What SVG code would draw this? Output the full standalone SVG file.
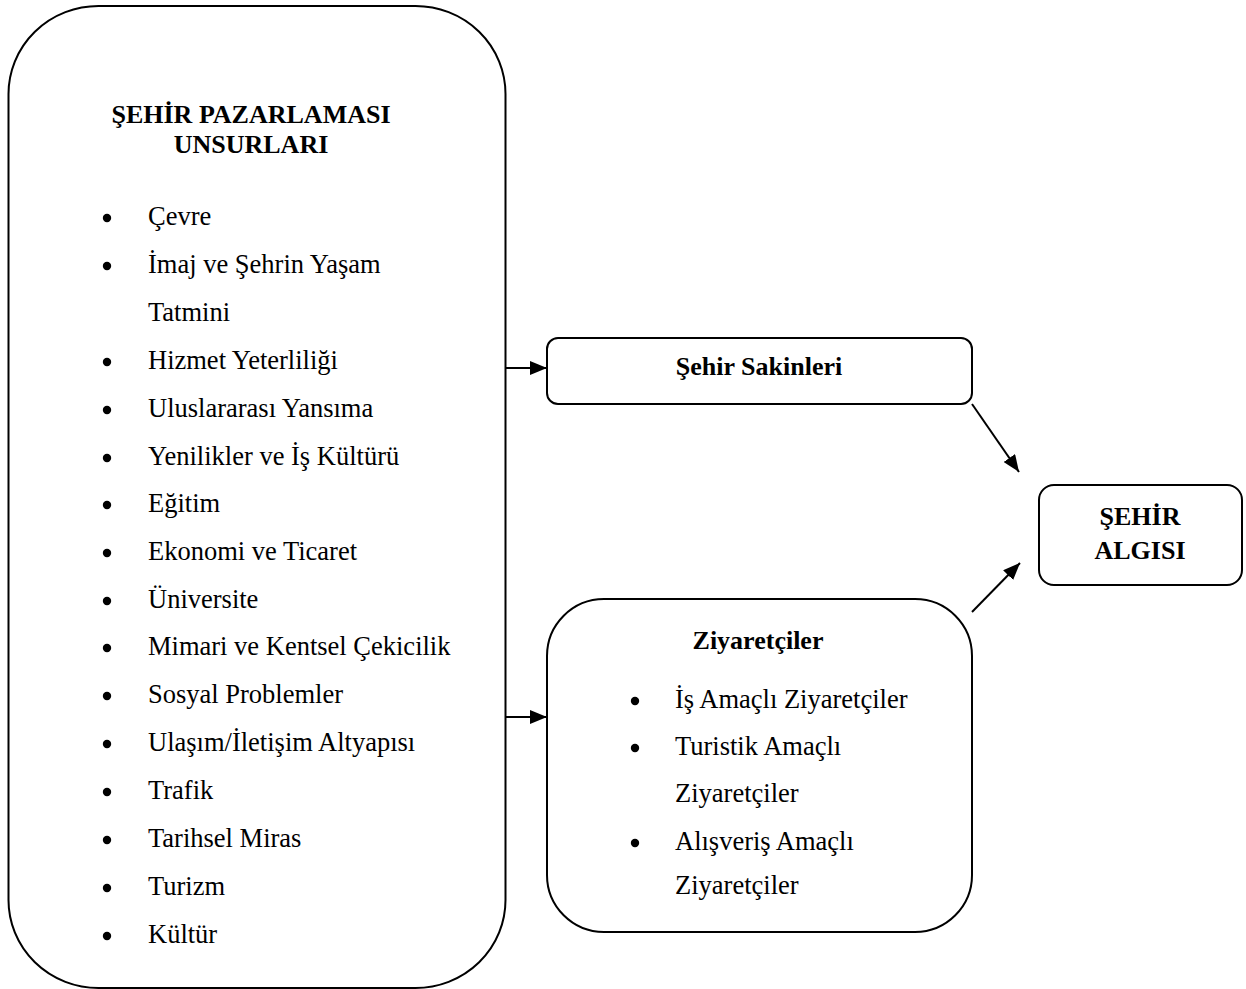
<svg xmlns="http://www.w3.org/2000/svg" width="1246" height="989" viewBox="0 0 1246 989">
  <defs>
    <marker id="arrow" markerUnits="userSpaceOnUse" markerWidth="18" markerHeight="14" refX="17" refY="7" orient="auto">
      <path d="M0,0 L17,7 L0,14 Z" fill="#000"/>
    </marker>
    <style>
      .box { fill: #fff; stroke: #000; stroke-width: 2; }
      .conn { stroke: #000; stroke-width: 2; fill: none; marker-end: url(#arrow); }
      text { font-family: "Liberation Serif", "Times New Roman", serif; fill: #000; }
      .title { font-size: 26px; font-weight: bold; text-anchor: middle; }
      .item { font-size: 26.5px; }
      .dot { fill: #000; }
    </style>
  </defs>
  <rect width="1246" height="989" fill="#fff"/>

  <!-- City marketing elements -->
  <g id="node-unsurlar">
    <rect class="box" x="8.5" y="6" width="497" height="982" rx="90" ry="88"/>
    <text class="title" x="251" y="123">ŞEHİR PAZARLAMASI</text>
    <text class="title" x="251" y="153">UNSURLARI</text>
    <g>
      <circle class="dot" cx="107" cy="218" r="4.2"/><text class="item" x="148" y="225">Çevre</text>
      <circle class="dot" cx="107" cy="266" r="4.2"/><text class="item" x="148" y="273">İmaj ve Şehrin Yaşam</text>
      <text class="item" x="148" y="321">Tatmini</text>
      <circle class="dot" cx="107" cy="362" r="4.2"/><text class="item" x="148" y="369">Hizmet Yeterliliği</text>
      <circle class="dot" cx="107" cy="410" r="4.2"/><text class="item" x="148" y="417">Uluslararası Yansıma</text>
      <circle class="dot" cx="107" cy="458" r="4.2"/><text class="item" x="148" y="465">Yenilikler ve İş Kültürü</text>
      <circle class="dot" cx="107" cy="505" r="4.2"/><text class="item" x="148" y="512">Eğitim</text>
      <circle class="dot" cx="107" cy="553" r="4.2"/><text class="item" x="148" y="560">Ekonomi ve Ticaret</text>
      <circle class="dot" cx="107" cy="601" r="4.2"/><text class="item" x="148" y="608">Üniversite</text>
      <circle class="dot" cx="107" cy="648" r="4.2"/><text class="item" x="148" y="655">Mimari ve Kentsel Çekicilik</text>
      <circle class="dot" cx="107" cy="696" r="4.2"/><text class="item" x="148" y="703">Sosyal Problemler</text>
      <circle class="dot" cx="107" cy="744" r="4.2"/><text class="item" x="148" y="751">Ulaşım/İletişim Altyapısı</text>
      <circle class="dot" cx="107" cy="792" r="4.2"/><text class="item" x="148" y="799">Trafik</text>
      <circle class="dot" cx="107" cy="840" r="4.2"/><text class="item" x="148" y="847">Tarihsel Miras</text>
      <circle class="dot" cx="107" cy="888" r="4.2"/><text class="item" x="148" y="895">Turizm</text>
      <circle class="dot" cx="107" cy="936" r="4.2"/><text class="item" x="148" y="943">Kültür</text>
    </g>
  </g>

  <!-- Residents -->
  <g id="node-sakinler">
    <rect class="box" x="547" y="338" width="425" height="66" rx="11"/>
    <text class="title" x="759" y="375">Şehir Sakinleri</text>
  </g>

  <!-- Visitors -->
  <g id="node-ziyaretciler">
    <rect class="box" x="547" y="599" width="425" height="333" rx="57"/>
    <text class="title" x="758" y="649">Ziyaretçiler</text>
    <circle class="dot" cx="635" cy="701" r="4.2"/><text class="item" x="675" y="708">İş Amaçlı Ziyaretçiler</text>
    <circle class="dot" cx="635" cy="748" r="4.2"/><text class="item" x="675" y="755">Turistik Amaçlı</text>
    <text class="item" x="675" y="802">Ziyaretçiler</text>
    <circle class="dot" cx="635" cy="843" r="4.2"/><text class="item" x="675" y="850">Alışveriş Amaçlı</text>
    <text class="item" x="675" y="894">Ziyaretçiler</text>
  </g>

  <!-- City perception -->
  <g id="node-algi">
    <rect class="box" x="1039" y="485" width="203" height="100" rx="15"/>
    <text class="title" x="1140" y="525">ŞEHİR</text>
    <text class="title" x="1140" y="559">ALGISI</text>
  </g>

  <g id="connectors">
    <line class="conn" x1="506" y1="368" x2="547" y2="368"/>
    <line class="conn" x1="506" y1="717" x2="547" y2="717"/>
    <line class="conn" x1="972" y1="404" x2="1019" y2="472"/>
    <line class="conn" x1="972" y1="612" x2="1020" y2="563"/>
  </g>
</svg>
